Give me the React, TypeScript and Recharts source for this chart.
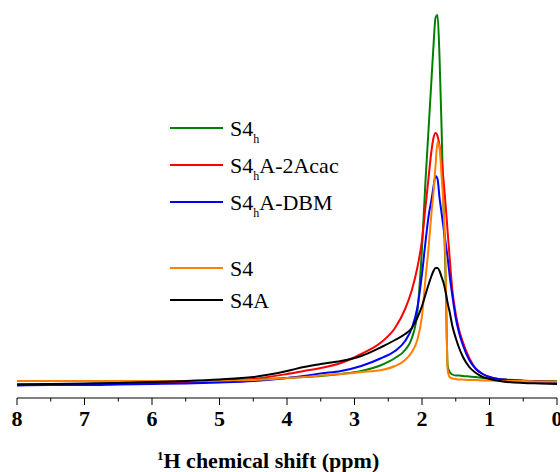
import { LineChart, Line, XAxis, YAxis, Legend } from "recharts";

// chemical shift grid (ppm), high to low
const ppm = [
  8, 7.5, 7, 6.5, 6, 5.5, 5, 4.5, 4, 3.75, 3.5, 3.2, 2.9, 2.6, 2.4, 2.25, 2.15,
  2.07, 2.0, 1.95, 1.9, 1.86, 1.83, 1.8, 1.77, 1.74, 1.71, 1.68, 1.65, 1.62,
  1.59, 1.55, 1.5, 1.45, 1.4, 1.3, 1.2, 1.1, 1.0, 0.8, 0.5, 0.25, 0,
];

const s4h = [
  13.5, 13.5, 14, 14.5, 15, 16, 17, 18.5, 20, 21, 22, 24, 27, 33, 40, 48, 60,
  85, 150, 215, 272, 318, 352, 380, 383, 340, 270, 190, 120, 32,
  26, 23.5, 22.5, 22.5, 22, 21.5, 21, 20, 19.5, 18.5, 17.5, 17, 17,
];

const s4hA2Acac = [
  13.5, 14, 14, 14.5, 15, 16, 17, 19, 24, 27, 30, 35, 44, 56, 70, 89, 108,
  130, 158, 190, 222, 247, 260, 265, 262, 252, 237, 217, 193, 166,
  140, 108, 84, 68, 57, 40, 29, 24, 21, 18.5, 17, 16.5, 16,
];

const s4hADbm = [
  12.5, 13, 13, 13.5, 14, 14.5, 15.5, 17, 20, 22, 24.5, 27, 32, 40, 47, 57, 70,
  90, 124, 155, 183, 198, 211, 222, 219, 200, 185, 170, 155, 140,
  122, 102, 80, 65, 54, 38, 29, 24, 21, 18.5, 17, 16.5, 16,
];

const s4 = [
  17, 17, 17, 17, 17, 17, 17.5, 18, 20, 21, 22.5, 24, 26, 28, 32, 38, 46,
  58, 82, 118, 152, 185, 205, 232, 256, 250, 222, 190, 130, 28,
  21, 19.5, 19, 18.5, 18.5, 18, 18, 17.5, 17.5, 17, 17, 16.5, 16.5,
];

const s4a = [
  13.5, 14, 14.5, 15, 16, 17, 18.5, 21, 27, 31, 34, 37, 42, 51, 58, 64, 70,
  80, 92, 103, 114, 122, 127, 130, 130, 127, 121, 115, 106, 95,
  86, 72, 60, 50, 42, 31, 25, 21, 19, 16.5, 15, 14.5, 14,
];

const xTicks = [0, 0.5, 1, 1.5, 2, 2.5, 3, 3.5, 4, 4.5, 5, 5.5, 6, 6.5, 7, 7.5, 8];

const seriesKeys = ["s4h", "s4hA2Acac", "s4hADbm", "s4", "s4a"];
const seriesNames = ["S4h", "S4hA-2Acac", "S4hA-DBM", "S4", "S4A"];
const seriesColors = ["#008000", "#ff0000", "#0000ff", "#ff8000", "#000000"];

const data = ppm.map((p, i) => ({
  ppm: p,
  s4h: s4h[i],
  s4hA2Acac: s4hA2Acac[i],
  s4hADbm: s4hADbm[i],
  s4: s4[i],
  s4a: s4a[i],
}));

const FONT = '"Liberation Serif", "Times New Roman", serif';

const PpmTick = (props: any) => {
  const { x, y, payload } = props;
  const major = Number.isInteger(payload.value);
  return (
    <g>
      <line x1={x} y1={y} x2={x} y2={y + (major ? 7 : 3.5)} stroke="#000" strokeWidth={1} />
      {major && (
        <text
          x={x}
          y={y + 28}
          textAnchor="middle"
          fontSize={22}
          fontWeight="bold"
          fontFamily={FONT}
          fill="#000"
        >
          {payload.value}
        </text>
      )}
    </g>
  );
};

const AxisTitle = (props: any) => {
  const vb = props.viewBox || { x: 17, y: 398 };
  return (
    <text x={vb.x + 140} y={vb.y + 70} fontSize={22} fontWeight="bold" fontFamily={FONT} fill="#000">
      <tspan fontSize={13} dy={-8}>1</tspan>
      <tspan dy={8}>H chemical shift (ppm)</tspan>
    </text>
  );
};

// legend rows: line y position inside the legend box
const legendRows = [18, 55, 92, 158, 190];

const renderLegend = () => (
  <svg width={240} height={210} style={{ display: "block" }}>
    {seriesNames.map((name, i) => {
      const y = legendRows[i];
      const hasSub = name.startsWith("S4h");
      return (
        <g key={name}>
          <line x1={10} y1={y} x2={63} y2={y} stroke={seriesColors[i]} strokeWidth={2} />
          <text x={70} y={y + 8} fontSize={22} fontFamily={FONT} fill="#000">
            {hasSub ? (
              <>
                <tspan>S4</tspan>
                <tspan fontSize={12} dy={7}>h</tspan>
                <tspan dy={-7}>{name.slice(3)}</tspan>
              </>
            ) : (
              name
            )}
          </text>
        </g>
      );
    })}
  </svg>
);

const App = () => {
  return (
    <div style={{ position: "absolute", left: 0, top: 0, width: 560, height: 472, background: "#fff" }}>
      <LineChart
        width={560}
        height={472}
        data={data}
        margin={{ top: 8, right: 3, bottom: 0, left: 17 }}
      >
        <XAxis
          dataKey="ppm"
          type="number"
          domain={[0, 8]}
          reversed
          ticks={xTicks}
          interval={0}
          height={74}
          tickSize={0}
          tickMargin={0}
          tickLine={false}
          tick={<PpmTick />}
          axisLine={{ stroke: "#000", strokeWidth: 1 }}
          label={{ content: <AxisTitle /> }}
        />
        <YAxis hide domain={[0, 390]} allowDataOverflow />
        <Legend
          layout="horizontal"
          verticalAlign="middle"
          align="center"
          content={renderLegend}
          wrapperStyle={{ position: "absolute", left: 160, top: 110, width: 240, height: 210 }}
        />
        {seriesKeys.map((key, i) => (
          <Line
            key={key}
            type="monotone"
            dataKey={key}
            name={seriesNames[i]}
            stroke={seriesColors[i]}
            strokeWidth={2}
            dot={false}
            activeDot={false}
            isAnimationActive={false}
          />
        ))}
      </LineChart>
    </div>
  );
};

export default App;
